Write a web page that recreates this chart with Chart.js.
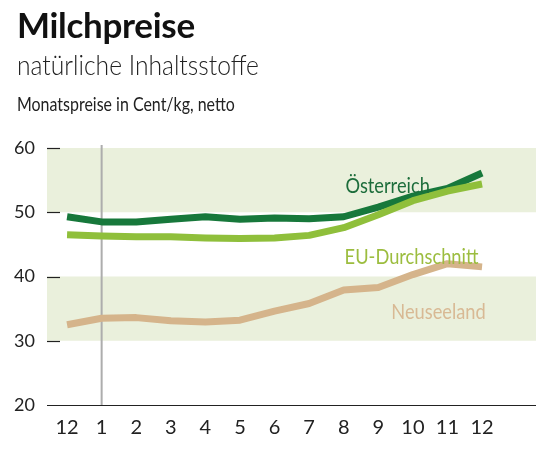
<!DOCTYPE html>
<html>
<head>
<meta charset="utf-8">
<script src="https://cdn.jsdelivr.net/npm/chart.js@4"></script>
<style>
  body { margin: 0; background: #fff; }
  #wrap { position: relative; width: 554px; height: 452px; }
  #chart { position: absolute; left: 0; top: 0; }
  .t { position: absolute; left: 17px; color: #222; font-family: Lato, sans-serif; white-space: nowrap; line-height: 1; transform-origin: 0 0; }
  #title { top: 7px; font-size: 35px; font-weight: 700; color: #111; letter-spacing: -0.3px; }
  #sub { top: 50px; font-size: 28px; font-weight: 300; transform: scaleX(0.88); }
  #unit { top: 94px; font-size: 19px; transform: scaleX(0.84); }
</style>
</head>
<body>
<div id="wrap">
  <canvas id="chart" width="554" height="452"></canvas>
  <div class="t" id="title">Milchpreise</div>
  <div class="t" id="sub">natürliche Inhaltsstoffe</div>
  <div class="t" id="unit">Monatspreise in Cent/kg, netto</div>
</div>
<script>
const monate = ['12', '1', '2', '3', '4', '5', '6', '7', '8', '9', '10', '11', '12'];
const oesterreich = [49.3, 48.5, 48.5, 48.9, 49.3, 48.9, 49.1, 49.0, 49.3, 50.8, 52.5, 53.7, 56.1];
const euSchnitt = [46.5, 46.3, 46.2, 46.2, 46.0, 45.9, 46.0, 46.4, 47.6, 49.6, 51.8, 53.3, 54.4];
const neuseeland = [32.5, 33.5, 33.6, 33.1, 32.9, 33.2, 34.6, 35.8, 37.9, 38.3, 40.3, 42.0, 41.5];
const yTicks = [20, 30, 40, 50, 60];
const baender = [[50, 60], [30, 40]];

const pts = arr => arr.map((v, i) => ({ x: i, y: v }));

function schmal(ctx, text, px, py) {
    ctx.save();
    ctx.translate(px, py);
    ctx.scale(0.87, 1);
    ctx.fillText(text, 0, 0);
    ctx.restore();
}

const deko = {
    id: 'deko',
    beforeDatasetsDraw(chart) {
        const { ctx, chartArea: a, scales: { x, y } } = chart;
        ctx.save();
        ctx.fillStyle = '#eaf0dc';
        baender.forEach(([lo, hi]) => {
            ctx.fillRect(a.left, y.getPixelForValue(hi), a.right - a.left, y.getPixelForValue(lo) - y.getPixelForValue(hi));
        });
        // kleine Striche an den y-Werten
        ctx.strokeStyle = '#222';
        ctx.lineWidth = 1.2;
        yTicks.forEach(v => {
            const py = Math.round(y.getPixelForValue(v)) + 0.5;
            ctx.beginPath();
            ctx.moveTo(a.left, py);
            ctx.lineTo(v === 20 ? a.right : a.left + 13, py);
            ctx.stroke();
        });
        // Jahreswechsel
        ctx.strokeStyle = '#adadad';
        ctx.lineWidth = 2;
        const px = x.getPixelForValue(1);
        ctx.beginPath();
        ctx.moveTo(px, a.top - 3);
        ctx.lineTo(px, a.bottom);
        ctx.stroke();
        ctx.restore();
    },
    afterDatasetsDraw(chart) {
        const { ctx, scales: { x, y } } = chart;
        ctx.save();
        ctx.font = '21px Lato, sans-serif';
        ctx.textAlign = 'center';
        ctx.textBaseline = 'alphabetic';
        ctx.fillStyle = '#1d6d3b';
        schmal(ctx, 'Österreich', x.getPixelForValue(9.27), y.getPixelForValue(53.0));
        ctx.fillStyle = '#9cbd3f';
        schmal(ctx, 'EU-Durchschnitt', x.getPixelForValue(9.96), y.getPixelForValue(41.95));
        ctx.fillStyle = '#d8b994';
        schmal(ctx, 'Neuseeland', x.getPixelForValue(10.74), y.getPixelForValue(33.4));
        ctx.restore();
    }
};

const linie = (data, farbe) => ({
    data: pts(data),
    borderColor: farbe,
    borderWidth: 7,
    pointRadius: 0,
    tension: 0,
    borderJoinStyle: 'round',
    borderCapStyle: 'butt'
});

new Chart(document.getElementById('chart'), {
    type: 'line',
    data: {
        datasets: [
            linie(neuseeland, '#d5b48b'),
            linie(euSchnitt, '#8fbf3b'),
            linie(oesterreich, '#17783b')
        ]
    },
    options: {
        responsive: false,
        animation: false,
        layout: { padding: { top: 148, right: 18, left: 0, bottom: 0 } },
        plugins: { legend: { display: false }, tooltip: { enabled: false } },
        scales: {
            x: {
                type: 'linear',
                min: -0.58,
                max: 13.56,
                border: { display: false },
                grid: { display: false },
                afterFit: s => { s.height = 47; },
                afterBuildTicks: s => { s.ticks = monate.map((m, i) => ({ value: i })); },
                ticks: {
                    padding: 3,
                    color: '#222',
                    font: { family: 'Lato, sans-serif', size: 20 },
                    callback: v => monate[v] ?? ''
                }
            },
            y: {
                min: 20,
                max: 60,
                border: { display: false },
                grid: { display: false },
                afterFit: s => { s.width = 47; },
                ticks: {
                    stepSize: 10,
                    padding: 4,
                    color: '#222',
                    font: { family: 'Lato, sans-serif', size: 18 }
                }
            }
        }
    },
    plugins: [deko]
});
</script>
</body>
</html>
